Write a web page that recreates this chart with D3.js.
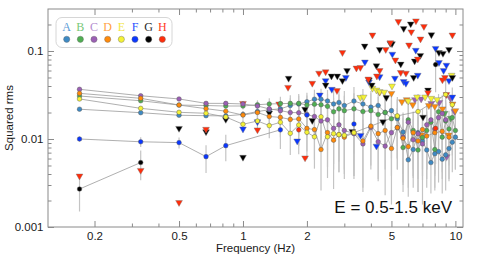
<!DOCTYPE html>
<html>
<head>
<meta charset="utf-8">
<script src="https://cdn.jsdelivr.net/npm/d3@7"></script>
<style>
  body { margin: 0; background: #fff; }
  svg { display: block; font-family: "Liberation Sans", Arial, sans-serif; }
</style>
</head>
<body>
<div id="chart"></div>
<script>
// series names and colours
const names = ["A", "B", "C", "D", "E", "F", "G", "H"];
const colors = ["#3e8ac4", "#4fae52", "#9b5fb4", "#ff8a0a", "#f4f235", "#0a37ff", "#000000", "#ff2d0a"];
const letterColors = ["#5b9bd5", "#78c878", "#b48ccf", "#ff9f3f", "#f2e64a", "#2a50ff", "#2b2b2b", "#ff3b26"];

// detections: [frequency (Hz), squared rms, error]; null breaks the connecting line
const detA = [
  [0.17,0.0218,0.0005],[0.33,0.0199,0.0005],[0.5,0.0186,0.0007],[0.67,0.0184,0.0009],[0.83,0.0183,0.0012],
  [1,0.019,0.0018],[1.17,0.0205,0.0025],[1.33,0.0215,0.003],[1.5,0.022,0.004],[1.67,0.024,0.005],
  [1.83,0.025,0.006],[2,0.0265,0.007],[2.17,0.0283,0.008],[2.33,0.0283,0.009],[2.5,0.027,0.009],
  [2.67,0.025,0.01],[2.83,0.026,0.01],[3,0.024,0.011],[3.33,0.027,0.012],[3.67,0.025,0.012],
  [4,0.023,0.012],[4.33,0.024,0.013],[4.67,0.02,0.012],[5,0.021,0.012],[5.33,0.017,0.011],
  [5.67,0.012,0.008],[6,0.0058,0.003],[6.33,0.0076,0.004],[6.67,0.0118,0.006],[7,0.0095,0.005],
  [7.33,0.0075,0.004],[7.67,0.0054,0.003],[8,0.0068,0.004],[8.33,0.0072,0.004],[8.67,0.0059,0.0035],
  [9,0.0066,0.004],[9.33,0.0078,0.0045],[9.67,0.0092,0.005],[10,0.0105,0.006]
];
const detB = [
  [0.17,0.0308,0.0005],[0.33,0.0272,0.0005],[0.5,0.0243,0.0007],[0.67,0.024,0.001],[0.83,0.0237,0.0013],
  [1,0.0237,0.002],[1.17,0.0245,0.003],[1.33,0.025,0.004],[1.5,0.0252,0.005],[1.67,0.0254,0.006],
  [1.83,0.0254,0.007],[2,0.0243,0.007],[2.17,0.0248,0.008],[2.33,0.0245,0.009],[2.5,0.0235,0.009],
  [2.67,0.0204,0.009],[2.83,0.022,0.01],[3,0.021,0.01],[3.33,0.022,0.011],[3.67,0.0205,0.011],
  [4,0.021,0.012],[4.33,0.019,0.011],[4.67,0.02,0.012],[5,0.017,0.011],[5.33,0.018,0.012],
  [5.67,0.008,0.005],[6,0.0165,0.011],[6.33,0.0125,0.008],[6.67,0.0075,0.005],[7,0.0104,0.007],
  [7.33,0.0125,0.008],[7.67,0.0155,0.01],[8,0.0076,0.005],[8.33,0.0204,0.012],[8.67,0.0105,0.007],
  [9,0.016,0.01],[9.33,0.013,0.008],[9.67,0.0175,0.011],[10,0.0125,0.008]
];
const detC = [
  [0.17,0.0367,0.0006],[0.33,0.031,0.0006],[0.5,0.0285,0.0008],[0.67,0.0254,0.001],[0.83,0.0254,0.0014],
  [1,0.025,0.002],[1.17,0.0237,0.003],[1.33,0.022,0.004],[1.5,0.021,0.005],[1.67,0.02,0.006],
  [1.83,0.0199,0.006],[2,0.019,0.007],[2.17,0.018,0.008],[2.33,0.016,0.008],[2.5,0.0165,0.009],
  [2.67,0.0132,0.008],[2.83,0.0145,0.009],[3,0.0125,0.008],[3.33,0.0115,0.008],[3.67,0.0088,0.006],
  [4,0.0135,0.009],[4.33,0.0093,0.006],[4.67,0.0083,0.006],[5,0.0118,0.008],[5.33,0.0135,0.009],
  [5.67,0.0105,0.008],[6,0.0155,0.01],[6.33,0.0098,0.007],[6.67,0.0115,0.008],[7,0.0088,0.007],
  [7.33,0.0145,0.01],[7.67,0.0165,0.011],[8,0.013,0.009],[8.33,0.0175,0.011],[8.67,0.0195,0.012],
  [9,0.0165,0.011]
];
const detD = [
  [0.17,0.033,0.0006],[0.33,0.029,0.0006],[0.5,0.0243,0.0008],[0.67,0.0221,0.001],[0.83,0.0207,0.0014],
  [1,0.0187,0.002],[1.17,0.02,0.003],[1.33,0.018,0.004],[1.5,0.0176,0.005],[1.67,0.0167,0.006],
  [1.83,0.0169,0.006],[2,0.0132,0.006],[2.17,0.0128,0.007],[2.33,0.0076,0.005],[2.5,0.0118,0.007],
  [2.67,0.0097,0.007],[2.83,0.0112,0.007],[3,0.0105,0.007],[3.33,0.0118,0.008],[3.67,0.0095,0.007],
  [4,0.014,0.009],[4.33,0.0115,0.008],[4.67,0.0125,0.008],[5,0.0078,0.006],[5.33,0.0135,0.009],
  [5.67,0.0102,0.007],[6,0.0082,0.006],[6.33,0.0118,0.008],[6.67,0.0095,0.007],[7,0.0128,0.009],
  [7.33,0.0108,0.008],[8,0.0118,0.008],[8.67,0.0122,0.008],[9.33,0.0105,0.007]
];
const detE = [
  [0.17,0.0285,0.0005],[0.33,0.0223,0.0006],[0.5,0.0201,0.0008],[0.67,0.0196,0.001],[0.83,0.0178,0.0014],
  [1,0.0147,0.002],[1.17,0.016,0.003],[1.33,0.0142,0.004],[1.5,0.0155,0.005],[1.67,0.0116,0.005],
  [1.83,0.0144,0.006],[2,0.0119,0.006],[2.17,0.0106,0.006],[2.33,0.0179,0.008],[2.5,0.0106,0.007],
  [2.67,0.0115,0.007],[2.83,0.0112,0.007],[3,0.011,0.007],[3.33,0.0118,0.008],[5.33,0.0183,0.01],
  [6.67,0.0205,0.012],[9,0.032,0.016],[9.67,0.0245,0.014]
];
const detF = [
  [0.17,0.01,0.0007],[0.33,0.0093,0.0012],[0.5,0.0091,0.0013],[0.67,0.0063,0.0022],[0.83,0.0084,0.0028],
  [1.5,0.0127,0.005], null, [2,0.0187,0.008], null, [3.33,0.0148,0.008]
];
const detG = [[0.17,0.0027,0.0012],[0.33,0.0054,0.002], null, [8.07,0.07,0.036]];
const detH = [[1.83,0.0127,0.006], null, [8.07,0.0132,0.008]];

// upper limits: [frequency (Hz), squared rms]
const ulA = [];
const ulB = [[8.9,0.0196],[9.5,0.0172]];
const ulC = [[6.45,0.028],[6.9,0.0285],[7.7,0.0254],[8.4,0.026],[9.1,0.0063],[9.5,0.029],[9.9,0.0205]];
const ulD = [[4.4,0.034],[5,0.033],[5.6,0.0265],[5.9,0.028],[6.3,0.0245],[6.9,0.0111],[7.5,0.024],
  [8,0.0235],[8.7,0.022],[9.3,0.0111],[9.7,0.025],[10,0.021]];
const ulE = [[3.57,0.0297],[3.7,0.03],[4.07,0.0377],[4.25,0.036],[4.4,0.0345],[4.62,0.034],[5.03,0.04],
  [6,0.027],[6.6,0.03],[7.2,0.03],[7.7,0.029],[8.2,0.028],[9.6,0.053]];
const ulF = [[1,0.013],[1.17,0.0157],[1.8,0.0095],[2.3,0.0316],[2.45,0.046],[2.62,0.0367],[3.05,0.05],
  [3.58,0.011],[3.75,0.075],[3.92,0.0445],[4.25,0.0083],[4.4,0.051],[5.05,0.092],[5.19,0.049],
  [5.71,0.045],[5.85,0.043],[6.51,0.102],[6.65,0.053],[8.07,0.107],[8.37,0.074],[8.8,0.06],
  [9.07,0.069],[9.33,0.046],[9.68,0.03]];
const ulG = [[0.5,0.0132],[0.67,0.0121],[0.83,0.0167],[1,0.0062],[1.33,0.0198],[1.64,0.049],[1.96,0.0218],
  [2.12,0.0162],[2.45,0.041],[2.61,0.052],[2.78,0.052],[2.94,0.046],[3.09,0.06],[3.27,0.0122],
  [3.74,0.114],[3.92,0.047],[4.04,0.041],[4.25,0.068],[4.4,0.104],[4.56,0.0157],[4.73,0.0296],
  [4.94,0.122],[5.03,0.121],[5.53,0.071],[5.71,0.18],[6.16,0.203],[6.36,0.05],[6.43,0.077],
  [6.84,0.089],[7.04,0.0177],[7.43,0.036],[7.71,0.153],[8.37,0.096],[8.74,0.094],[9.33,0.104],[9.68,0.05]];
const ulH = [[0.17,0.0038],[0.33,0.0044],[0.5,0.0019],[0.67,0.0129],[1,0.0254],[1.17,0.0127],[1.48,0.025],
  [1.63,0.0386],[1.96,0.0061],[2.12,0.043],[2.28,0.056],[2.45,0.058],[2.77,0.0355],[2.94,0.096],
  [3.42,0.064],[3.57,0.065],[3.89,0.048],[4.07,0.152],[4.27,0.052],[4.4,0.06],[4.7,0.104],[4.94,0.124],
  [5.22,0.079],[5.39,0.216],[5.53,0.057],[5.85,0.056],[6.05,0.117],[6.2,0.165],[6.52,0.22],[6.65,0.081],
  [6.85,0.137],[7.11,0.19],[7.43,0.0336],[8.69,0.047],[8.93,0.05],[9.07,0.032],[9.68,0.152]];

const detections = [detA, detB, detC, detD, detE, detF, detG, detH];
const limits = [ulA, ulB, ulC, ulD, ulE, ulF, ulG, ulH];

// axis ticks
const xMajor = [0.2, 0.5, 1, 2, 5, 10];
const xMinor = [0.3, 0.4, 0.6, 0.7, 0.8, 0.9, 3, 4, 6, 7, 8, 9];
const yMajor = [0.001, 0.01, 0.1];
const yMinor = [0.002, 0.003, 0.004, 0.005, 0.006, 0.007, 0.008, 0.009,
  0.02, 0.03, 0.04, 0.05, 0.06, 0.07, 0.08, 0.09, 0.2];
const energyLabel = "E = 0.5-1.5 keV";

var svgWidth = 479;
var svgHeight = 259;
var margin = { top: 9, right: 16, bottom: 32, left: 48 };
var width = svgWidth - margin.left - margin.right;
var height = svgHeight - margin.top - margin.bottom;

var svg = d3.select("#chart")
  .append("svg")
  .attr("width", svgWidth)
  .attr("height", svgHeight);

var chartGroup = svg.append("g")
  .attr("transform", `translate(${margin.left}, ${margin.top})`);

const x = d3.scaleLog().domain([0.1208, 10.86]).range([0, width]);
const y = d3.scaleLog().domain([0.001, 0.3]).range([height, 0]);
const fmt = d3.format("~g");

// axes: ticks inward, mirrored on all four sides
function styleAxis(g) {
  g.select(".domain").remove();
  g.selectAll(".tick line").attr("stroke", "#8a8a8a");
  g.selectAll(".tick text").attr("fill", "#1a1a1a").style("font-size", "11.5px")
    .style("font-family", '"Liberation Sans", Arial, sans-serif');
}
chartGroup.append("g").attr("transform", `translate(0,${height})`)
  .call(d3.axisBottom(x).tickValues(xMajor).tickFormat(fmt).tickSize(-6).tickPadding(4.5)).call(styleAxis);
chartGroup.append("g").attr("transform", `translate(0,${height})`)
  .call(d3.axisBottom(x).tickValues(xMinor).tickFormat("").tickSize(-3.5)).call(styleAxis);
chartGroup.append("g")
  .call(d3.axisTop(x).tickValues(xMajor).tickFormat("").tickSize(-6)).call(styleAxis);
chartGroup.append("g")
  .call(d3.axisTop(x).tickValues(xMinor).tickFormat("").tickSize(-3.5)).call(styleAxis);
chartGroup.append("g")
  .call(d3.axisLeft(y).tickValues(yMajor).tickFormat(fmt).tickSize(-6).tickPadding(4.5)).call(styleAxis);
chartGroup.append("g")
  .call(d3.axisLeft(y).tickValues(yMinor).tickFormat("").tickSize(-3.5)).call(styleAxis);
chartGroup.append("g").attr("transform", `translate(${width},0)`)
  .call(d3.axisRight(y).tickValues(yMajor).tickFormat("").tickSize(-6)).call(styleAxis);
chartGroup.append("g").attr("transform", `translate(${width},0)`)
  .call(d3.axisRight(y).tickValues(yMinor).tickFormat("").tickSize(-3.5)).call(styleAxis);

chartGroup.append("rect")
  .attr("width", width).attr("height", height)
  .attr("fill", "none").attr("stroke", "#8a8a8a").attr("stroke-width", 1);

// error bars
detections.forEach(function(rows) {
  chartGroup.append("g").selectAll("line")
    .data(rows.filter(d => d))
    .enter().append("line")
    .attr("x1", d => x(d[0])).attr("x2", d => x(d[0]))
    .attr("y1", d => y(d[1] + d[2])).attr("y2", d => y(d[1] - d[2]))
    .attr("stroke", "#c4c4c4").attr("stroke-width", 1.2);
});

// connecting lines
const line = d3.line().defined(d => d).x(d => x(d[0])).y(d => y(d[1]));
detections.forEach(function(rows) {
  chartGroup.append("path").datum(rows)
    .attr("d", line)
    .attr("fill", "none").attr("stroke", "#9a9a9a").attr("stroke-width", 0.8);
});

// upper limits (downward triangles)
const tri = d3.symbol().type(d3.symbolTriangle).size(20);
limits.forEach(function(rows, i) {
  chartGroup.append("g").selectAll("path")
    .data(rows)
    .enter().append("path")
    .attr("d", tri)
    .attr("transform", d => `translate(${x(d[0])},${y(d[1])}) rotate(180)`)
    .attr("fill", colors[i]).attr("stroke", "#777").attr("stroke-width", 0.4);
});

// detected points
detections.forEach(function(rows, i) {
  chartGroup.append("g").selectAll("circle")
    .data(rows.filter(d => d))
    .enter().append("circle")
    .attr("cx", d => x(d[0])).attr("cy", d => y(d[1]))
    .attr("r", 2.3)
    .attr("fill", colors[i]).attr("stroke", "#555").attr("stroke-width", 0.45);
});

// axis titles
chartGroup.append("text")
  .attr("x", width / 2).attr("y", height + 24.5)
  .attr("text-anchor", "middle").style("font-size", "11.5px").attr("fill", "#1a1a1a")
  .text("Frequency (Hz)");
chartGroup.append("text")
  .attr("transform", "rotate(-90)")
  .attr("x", -height / 2).attr("y", -35)
  .attr("text-anchor", "middle").style("font-size", "11.5px").attr("fill", "#1a1a1a")
  .text("Squared rms");

// energy band label
chartGroup.append("text")
  .attr("x", 404).attr("y", 204)
  .attr("text-anchor", "end").style("font-size", "17px").attr("fill", "#111")
  .text(energyLabel);

// legend
const legend = svg.append("g").attr("transform", "translate(56,17.5)");
legend.append("rect")
  .attr("width", 116).attr("height", 30).attr("rx", 6)
  .attr("fill", "#fff").attr("stroke", "#d6d6d6").attr("stroke-width", 1);
legend.selectAll("text")
  .data(names)
  .enter().append("text")
  .attr("x", (d, i) => 10.7 + i * 13.66).attr("y", 13.2)
  .attr("text-anchor", "middle")
  .style("font-family", '"Liberation Serif", "Times New Roman", serif')
  .style("font-size", "12px")
  .attr("fill", (d, i) => letterColors[i])
  .text(d => d);
legend.selectAll("circle")
  .data(names)
  .enter().append("circle")
  .attr("cx", (d, i) => 10.7 + i * 13.66).attr("cy", 21.8)
  .attr("r", 3.1)
  .attr("fill", (d, i) => colors[i]).attr("stroke", "#666").attr("stroke-width", 0.4);
</script>
</body>
</html>
